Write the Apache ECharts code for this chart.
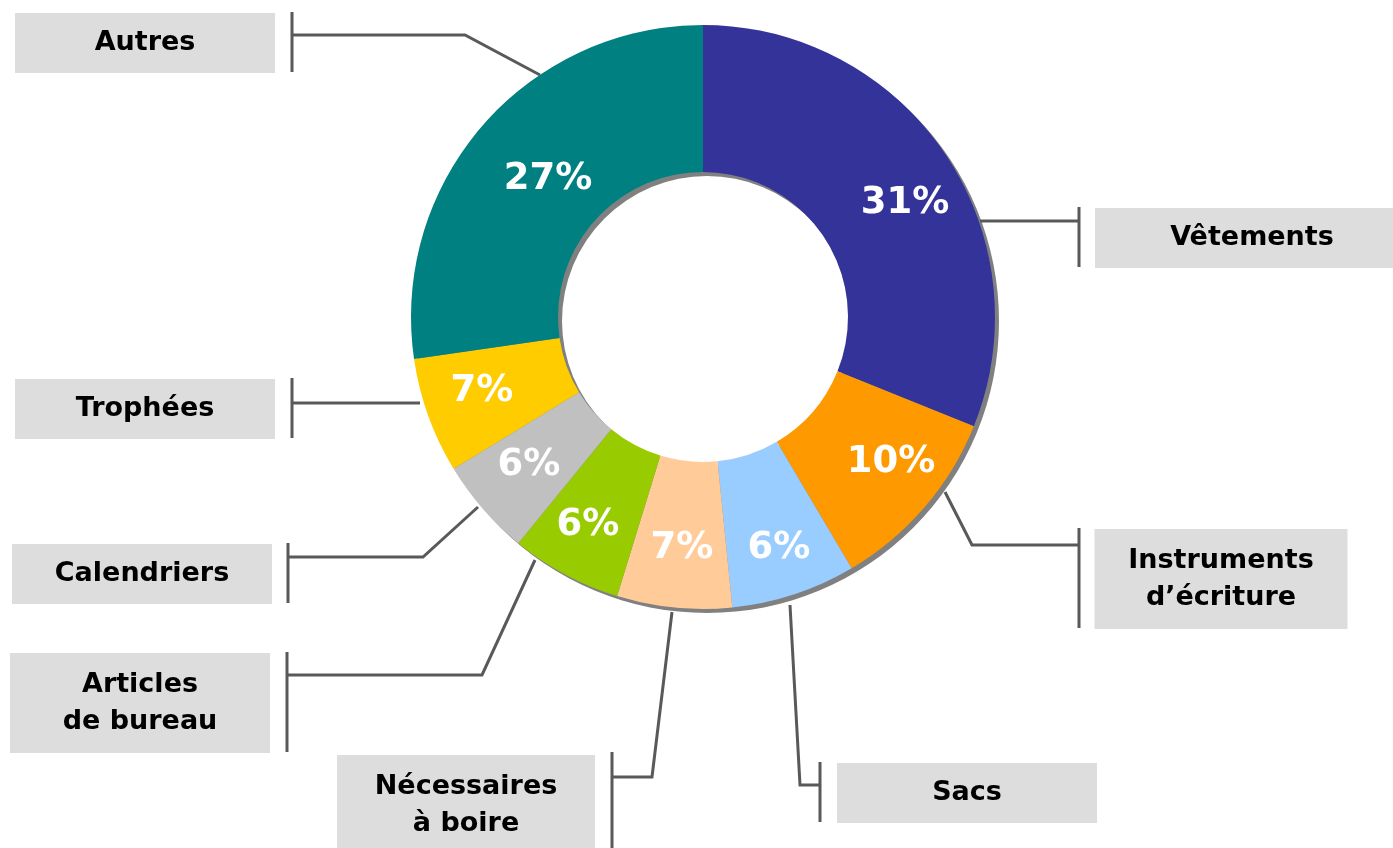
<!DOCTYPE html>
<html>
<head>
<meta charset="utf-8">
<script src="https://cdn.jsdelivr.net/npm/echarts@6/dist/echarts.min.js"></script>
<style>
  html, body { margin: 0; padding: 0; background: #ffffff; }
  #chart { width: 1393px; height: 848px; }
</style>
</head>
<body>
<div id="chart"></div>
<script>
// ---- Data ----
const categories = [
  'Vêtements',
  'Instruments\nd’écriture',
  'Sacs',
  'Nécessaires\nà boire',
  'Articles\nde bureau',
  'Calendriers',
  'Trophées',
  'Autres'
];
// slice sizes (share of the ring, %)
const sliceValues = [31.1, 10.4, 6.9, 6.35, 6.15, 5.4, 6.4, 27.3];
// percentages printed on the slices
const percentLabels = [31, 10, 6, 7, 6, 6, 7, 27];
const colors = ['#333399', '#FF9900', '#99CCFF', '#FFCC99', '#99CC00', '#C0C0C0', '#FFCC00', '#008080'];

// ---- Callout layout (label box centre, box width, leader polyline incl. end bar) ----
const calloutLayout = [
  { cx: 1252, cy: 238, w: 314, pts: [[980, 221], [1079, 221], [1079, 207], [1079, 267]] },
  { cx: 1221, cy: 579, w: 253, pts: [[945, 492], [972, 545], [1079, 545], [1079, 528], [1079, 628]] },
  { cx: 967,  cy: 793, w: 260, pts: [[790, 605], [800, 785], [820, 785], [820, 762], [820, 822]] },
  { cx: 466,  cy: 805, w: 258, pts: [[672, 612], [652, 777], [612, 777], [612, 752], [612, 856]] },
  { cx: 140,  cy: 703, w: 260, pts: [[535, 560], [482, 675], [287, 675], [287, 652], [287, 752]] },
  { cx: 142,  cy: 574, w: 260, pts: [[478, 507], [423, 557], [288, 557], [288, 543], [288, 603]] },
  { cx: 145,  cy: 409, w: 260, pts: [[420, 403], [292, 403], [292, 378], [292, 438]] },
  { cx: 145,  cy: 43,  w: 260, pts: [[540, 75], [465, 35], [292, 35], [292, 12], [292, 72]] }
];
// positions of the percentage labels
const percentPos = [[905, 203], [891, 462], [779, 548], [682, 548], [588, 525], [529, 465], [482, 391], [548, 179]];

const CENTER = [703, 317];
const R_IN = 145, R_OUT = 292;
const FONT = '"DejaVu Sans", "Noto Sans", sans-serif';

const mainData = categories.map((name, i) => {
  const twoLines = name.indexOf('\n') >= 0;
  return {
    name: name,
    value: sliceValues[i],
    itemStyle: { color: colors[i] },
    label: {
      width: calloutLayout[i].w,
      padding: twoLines ? [13, 0] : [11.5, 0]
    }
  };
});

const pctData = categories.map((name, i) => ({ name: name, value: sliceValues[i] }));
const total = sliceValues.reduce((a, b) => a + b, 0);

const chart = echarts.init(document.getElementById('chart'), null, { renderer: 'canvas' });
chart.setOption({
  animation: false,
  backgroundColor: '#ffffff',
  series: [
    {
      // drop shadow ring
      type: 'pie',
      silent: true,
      center: [CENTER[0] + 4, CENTER[1] + 4],
      radius: [R_IN, R_OUT],
      startAngle: 90,
      label: { show: false },
      labelLine: { show: false },
      emphasis: { disabled: true },
      itemStyle: { color: '#808080', borderWidth: 0 },
      data: [{ name: 'shadow', value: total }],
      z: 1
    },
    {
      type: 'pie',
      silent: true,
      center: CENTER,
      radius: [R_IN, R_OUT],
      startAngle: 90,
      clockwise: true,
      avoidLabelOverlap: false,
      emphasis: { disabled: true },
      itemStyle: { borderWidth: 0 },
      label: {
        show: true,
        position: 'outside',
        formatter: '{b}',
        color: '#000000',
        fontFamily: FONT,
        fontWeight: 'bold',
        fontSize: 27,
        lineHeight: 37,
        align: 'center',
        backgroundColor: '#DDDDDD'
      },
      labelLine: {
        show: true,
        smooth: false,
        lineStyle: { color: '#595959', width: 3 }
      },
      labelLayout: function (params) {
        const L = calloutLayout[params.dataIndex];
        return {
          x: L.cx,
          y: L.cy,
          align: 'center',
          verticalAlign: 'middle',
          labelLinePoints: L.pts
        };
      },
      data: mainData,
      z: 2
    },
    {
      // percentage labels
      type: 'pie',
      silent: true,
      center: CENTER,
      radius: [R_IN, R_OUT],
      startAngle: 90,
      clockwise: true,
      emphasis: { disabled: true },
      itemStyle: { color: 'rgba(0,0,0,0)', borderWidth: 0 },
      label: {
        show: true,
        position: 'inside',
        formatter: function (p) { return percentLabels[p.dataIndex] + '%'; },
        color: '#ffffff',
        fontFamily: FONT,
        fontWeight: 'bold',
        fontSize: 37
      },
      labelLayout: function (params) {
        const P = percentPos[params.dataIndex];
        return { x: P[0], y: P[1], align: 'center', verticalAlign: 'middle' };
      },
      labelLine: { show: false },
      data: pctData,
      z: 3
    }
  ]
});
</script>
</body>
</html>
